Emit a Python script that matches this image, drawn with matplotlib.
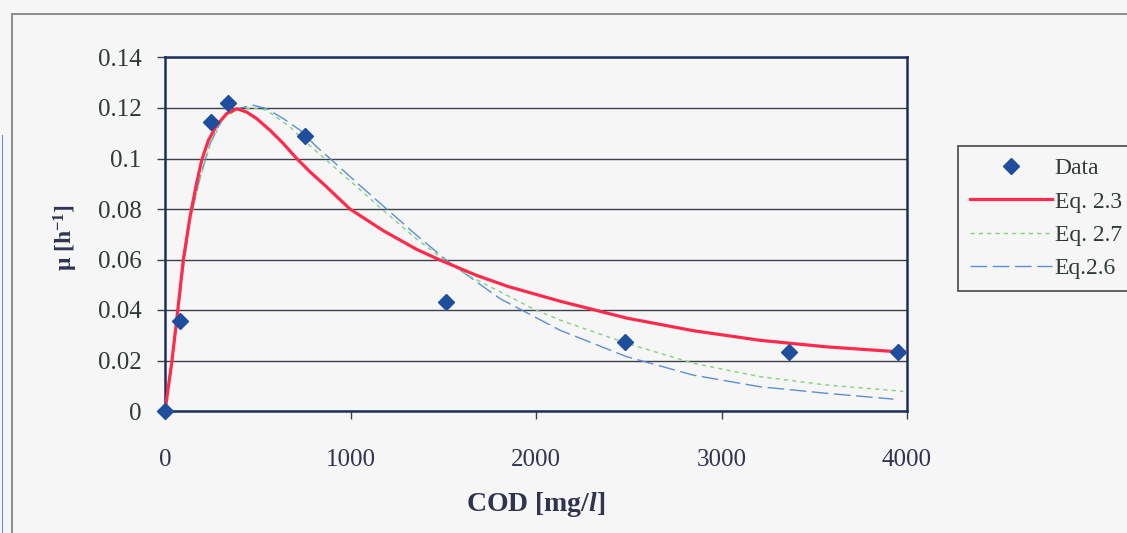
import matplotlib
matplotlib.use('Agg')
from matplotlib import pyplot as plt
from matplotlib.lines import Line2D
from matplotlib.patches import Rectangle

plt.rcParams['font.family'] = ['Liberation Serif', 'DejaVu Serif']
plt.rcParams['mathtext.fontset'] = 'custom'
plt.rcParams['mathtext.rm'] = 'Liberation Serif:bold'
plt.rcParams['mathtext.bf'] = 'Liberation Serif:bold'
plt.rcParams['mathtext.it'] = 'Liberation Serif:bold:italic'

# measured points
cod_data = [0, 81, 250, 341, 755, 1513, 2480, 3366, 3950]
mu_data = [0, 0.0357, 0.1146, 0.1220, 0.1090, 0.0430, 0.0272, 0.0235, 0.0233]

# Eq. 2.3
eq23_cod = [0, 36, 63, 99, 135, 171, 198, 234, 279, 333, 387, 440, 494, 566,
            638, 710, 782, 853, 997, 1177, 1357, 1482, 1680, 1850, 2129, 2489,
            2848, 3208, 3567, 4000]
eq23_mu = [0, 0.019, 0.036, 0.060, 0.0770, 0.0905, 0.0993, 0.1072, 0.1132, 0.1178,
           0.1197, 0.1184, 0.1158, 0.1112, 0.1059, 0.1000, 0.0947, 0.0900, 0.0800,
           0.0714, 0.0640, 0.0598, 0.0537, 0.0493, 0.0435, 0.0368, 0.0318, 0.0280,
           0.0254, 0.0232]

# Eq. 2.7
eq27_cod = [0, 36, 63, 99, 135, 189, 243, 314, 387, 476, 548, 674, 771, 1015,
            1168, 1350, 1519, 1626, 1985, 2129, 2489, 2848, 3208, 3567, 3980]
eq27_mu = [0, 0.018, 0.035, 0.057, 0.0755, 0.0920, 0.1055, 0.1160, 0.1192, 0.1200,
           0.1191, 0.1125, 0.1057, 0.0900, 0.0800, 0.0685, 0.0590, 0.0540, 0.0405,
           0.0360, 0.0268, 0.0189, 0.0136, 0.0103, 0.0078]

# Eq. 2.6
eq26_cod = [0, 36, 63, 99, 135, 189, 243, 314, 387, 476, 548, 638, 728, 818, 889,
            1042, 1195, 1350, 1519, 1806, 2129, 2489, 2848, 3208, 3567, 3927]
eq26_mu = [0, 0.018, 0.035, 0.057, 0.0755, 0.0925, 0.1059, 0.1164, 0.1197, 0.1211,
           0.1197, 0.1158, 0.1112, 0.1046, 0.1000, 0.0899, 0.0800, 0.0700, 0.0596,
           0.0445, 0.0320, 0.0215, 0.0142, 0.0096, 0.0070, 0.0047]

x_ticks = [0, 1000, 2000, 3000, 4000]
y_ticks = [0, 0.02, 0.04, 0.06, 0.08, 0.1, 0.12, 0.14]
y_tick_labels = ['0', '0.02', '0.04', '0.06', '0.08', '0.1', '0.12', '0.14']

bg = '#f6f6f6'
navy = '#1c2f5c'
txt = '#2f3a3a'

fig = plt.figure(figsize=(11.27, 5.33), dpi=100, facecolor=bg)
ax = fig.add_axes([165/1127, 1 - 411/533, (907 - 165)/1127, (411 - 57.5)/533])
ax.set_facecolor(bg)

# outer chart frame (right / bottom edges are cut off in the original)
fig.patches.append(Rectangle((12/1127, -0.1), 1.2, 0.1 + 1 - 14/533,
                             transform=fig.transFigure, fill=False,
                             edgecolor='#7a7a7a', linewidth=1.2, zorder=0))
fig.add_artist(Line2D([2/1127, 2/1127], [0, 1 - 135/533], color='#6f8fd0',
                      linewidth=0.8, transform=fig.transFigure))

ax.plot(eq26_cod, eq26_mu, color='#5b8fd6', linewidth=1.0, dashes=(12, 4),
        label='Eq.2.6', zorder=3)
ax.plot(eq27_cod, eq27_mu, color='#86d080', linewidth=1.0, dashes=(3, 3),
        label='Eq. 2.7', zorder=3)
ax.plot(eq23_cod, eq23_mu, color='#ff2a4c', linewidth=2.3, label='Eq. 2.3',
        zorder=4, solid_joinstyle='round')
ax.plot(cod_data, mu_data, linestyle='none', marker='D', markersize=8.5,
        color='#1f4e9e', label='Data', zorder=5, clip_on=False)

ax.set_xlim(0, 4000)
ax.set_ylim(0, 0.14)
ax.set_xticks(x_ticks)
ax.set_xticklabels([str(t) for t in x_ticks])
ax.set_yticks(y_ticks)
ax.set_yticklabels(y_tick_labels)
ax.yaxis.grid(True, color='#3c404a', linewidth=1.0)
ax.set_axisbelow(True)
ax.tick_params(axis='y', direction='out', length=6, width=1.0, color='#3c404a',
               pad=11, labelsize=18, labelcolor=txt)
ax.tick_params(axis='x', direction='out', length=6, width=1.0, color='#3c404a',
               pad=21, labelsize=18, labelcolor='#2f3550')
for s in ax.spines.values():
    s.set_color(navy)
    s.set_linewidth(1.8)

ax.set_xlabel('COD [mg/$\\it{l}$]', fontsize=20, fontweight='bold',
              color='#2f3550', labelpad=14)
ax.set_ylabel('\u03bc [h$^{\\mathbf{-1}}$]', fontsize=17, fontweight='bold',
              color='#2f3550')
ax.yaxis.set_label_coords(-0.115, 0.49)

handles, labels = ax.get_legend_handles_labels()
order = [3, 2, 1, 0]
leg = fig.legend([handles[i] for i in order], [labels[i] for i in order],
                 loc='upper left', bbox_to_anchor=(958/1127, 1 - 146/533),
                 fontsize=17, frameon=True, fancybox=False, handlelength=3.5,
                 handletextpad=0.1, labelspacing=0.5, borderpad=0.5,
                 borderaxespad=0, framealpha=1)
leg.get_frame().set_edgecolor('#555555')
leg.get_frame().set_facecolor(bg)
leg.get_frame().set_linewidth(1.3)
for t in leg.get_texts():
    t.set_color(txt)

fig.savefig('out.png', dpi=100, facecolor=bg)
